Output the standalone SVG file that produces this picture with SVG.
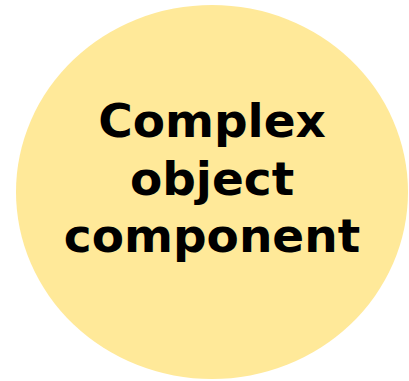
<svg xmlns="http://www.w3.org/2000/svg" width="409" height="381" viewBox="0 0 409 381">
<style>
.lbl{font-family:"DejaVu Sans",sans-serif;font-weight:bold;font-size:47px;fill:#000;text-anchor:middle}
</style>
<rect width="409" height="381" fill="#fff"/>
<g id="node-complex">
<ellipse cx="212" cy="192" rx="196" ry="187" fill="#FFE999"/>
<text class="lbl" x="212" y="137">Complex</text>
<text class="lbl" x="212" y="195">object</text>
<text class="lbl" x="212" y="252">component</text>
</g>
<g id="connectors"></g>
</svg>
